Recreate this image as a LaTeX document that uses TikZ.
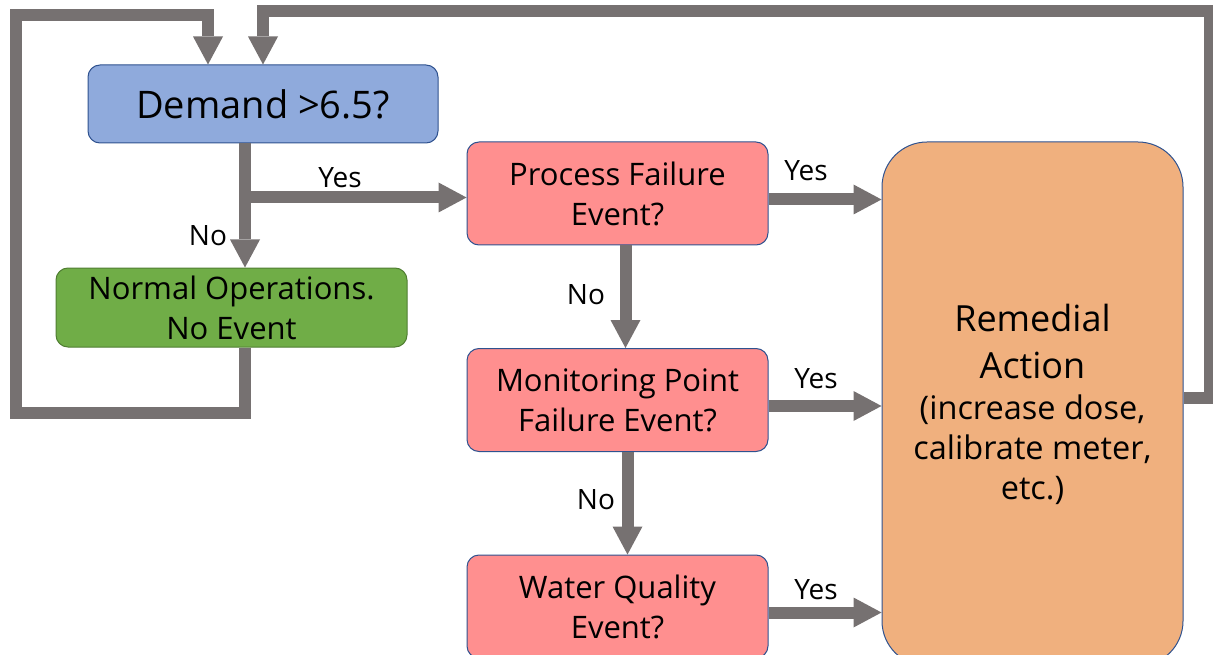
\documentclass[tikz,border=0pt]{standalone}
\usepackage{fontspec}
\setmainfont{Open Sans}
\usetikzlibrary{arrows.meta}
\definecolor{demblue}{RGB}{143,170,220}
\definecolor{blueline}{RGB}{47,82,143}
\definecolor{okgreen}{RGB}{112,173,71}
\definecolor{greenline}{RGB}{80,126,50}
\definecolor{evpink}{RGB}{255,143,143}
\definecolor{actorange}{RGB}{240,176,126}
\definecolor{flowgray}{RGB}{118,113,113}
\newcommand\remsmall{\fontsize{32.5}{40}\selectfont}
\begin{document}
\begin{tikzpicture}[x=1pt,y=-1pt,
  box/.style={draw=blueline,line width=1pt,rounded corners=12pt,align=center,inner sep=0pt},
  evbox/.style={box,fill=evpink,minimum width=301pt,minimum height=103pt,font=\fontsize{31}{40}\selectfont},
  flow/.style={draw=flowgray,line width=12pt,line join=miter},
  tip/.style={-{Triangle[width=30pt,length=28pt,line width=0pt]}},
  lbl/.style={font=\fontsize{28}{30}\selectfont}]
\useasboundingbox (0,0) rectangle (1213,655);

% boxes
\node[box,fill=demblue,minimum width=350pt,minimum height=78pt,font=\fontsize{38}{40}\selectfont] (dem) at (263,104) {Demand >6.5?};
\node[box,fill=okgreen,draw=greenline,minimum width=351pt,minimum height=79pt,font=\fontsize{31}{40}\selectfont] (norm) at (231.5,307.5) {Normal Operations.\\No Event};
\node[evbox] (proc) at (617.5,193.5) {Process Failure\\Event?};
\node[evbox] (mon) at (617.5,400) {Monitoring Point\\Failure Event?};
\node[evbox] (wq) at (617.5,606.5) {Water Quality\\Event?};
\node[box,fill=actorange,rounded corners=45pt,minimum width=301pt,minimum height=524pt,font=\fontsize{36}{47}\selectfont] (rem) at (1032.5,404)
  {Remedial\\Action\\[-6pt]\remsmall (increase dose,\\[-7pt]\remsmall calibrate meter,\\[-7pt]\remsmall etc.)};

\coordinate (trunk) at (245,0);
\coordinate (lbot) at (16,413);
\coordinate (ltop) at (16,15);
\coordinate (rtop) at (1210,11);

% arrows
\draw[flow,tip] (dem.south -| trunk) -- (norm.north -| trunk);
\draw[flow,tip] ([yshift=-4pt]proc.west -| trunk) -- ([yshift=-4pt]proc.west);
\draw[flow,tip] ([xshift=8pt]proc.south) -- ([xshift=8pt]mon.north);
\draw[flow,tip] ([xshift=10pt]mon.south) -- ([xshift=10pt]wq.north);
\foreach \ev in {proc,mon,wq}
\draw[flow,tip] ([yshift=-6pt]\ev.east) -- ([yshift=-6pt]\ev.east -| rem.west);

% loops back to the top
\draw[flow,tip] (norm.south -| trunk) |- (lbot) -- (ltop) -| ([xshift=-55pt]dem.north);
\draw[flow,tip] ([yshift=6pt]rem.east) -| (rtop) -| (dem.north);

% labels
\node[lbl] (y1) at (340,178) {Yes};
\node[lbl] (n1) at (208,236) {No};
\node[lbl] (n2) at (586,295) {No};
\node[lbl] (n3) at (596,500) {No};
\node[lbl] (y2) at (806,171) {Yes};
\node[lbl] (y3) at (816,379) {Yes};
\node[lbl] (y4) at (816,590) {Yes};
\end{tikzpicture}
\end{document}
